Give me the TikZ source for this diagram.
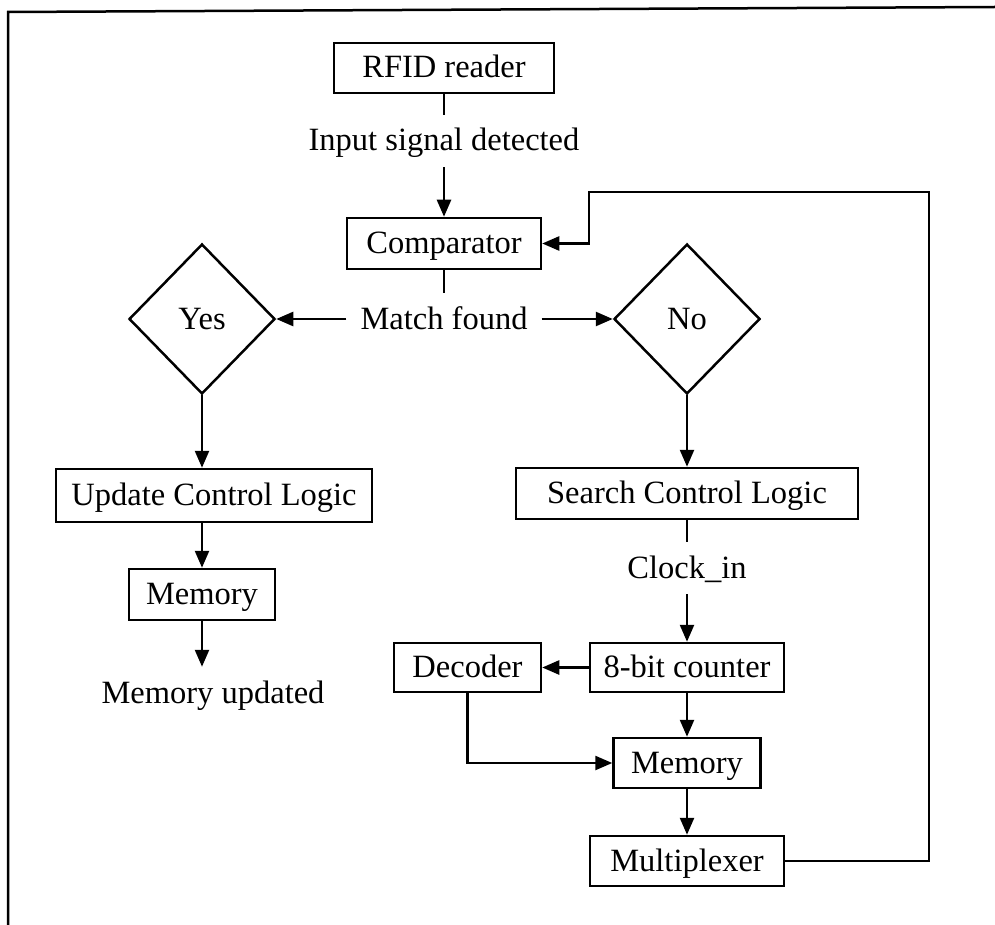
\documentclass[tikz,border=0pt]{standalone}
\usepackage{fontspec}
\setmainfont{Liberation Serif}
\usetikzlibrary{shapes.geometric,arrows.meta}
\begin{document}
\begin{tikzpicture}[x=1pt,y=-1pt,
  line width=2.5pt,
  font=\fontsize{32.5}{38}\selectfont,
  box/.style={draw, rectangle, inner sep=0pt, minimum height=51pt, text height=22pt, text depth=2pt},
  lbl/.style={inner xsep=13pt, inner ysep=0pt, minimum height=50pt, text height=22pt, text depth=2pt},
  dec/.style={draw, diamond, inner sep=0pt, minimum width=146pt, minimum height=150pt, text height=22pt, text depth=2pt},
  arr/.style={-{Triangle[length=17pt,width=14pt]}}
]
\useasboundingbox (0,0) rectangle (995,925);
% frame
\draw[line width=2.5pt] (995,7) -- (8,12) -- (8,925);
% nodes
\node[box, minimum width=220pt, minimum height=50pt] (rfid) at (444,68) {RFID reader};
\node[lbl] (inp) at (444,141) {Input signal detected};
\node[box, minimum width=194pt] (comp) at (444,243.5) {Comparator};
\node[lbl] (match) at (444,319) {Match found};
\node[dec] (yes) at (202,319) {Yes};
\node[dec] (no) at (687,319) {No};
\node[box, minimum width=316pt, minimum height=53pt] (upd) at (214,495.5) {Update Control Logic};
\node[box, minimum width=146pt] (mem1) at (202,594.5) {Memory};
\node[lbl] (memupd) at (213,693) {Memory updated};
\node[box, minimum width=342pt] (search) at (687,493.5) {Search Control Logic};
\node[lbl] (clock) at (687,568) {Clock\_in};
\node[box, minimum width=194pt, minimum height=49pt] (counter) at (687,667.5) {8-bit counter};
\node[box, minimum width=147pt, minimum height=49pt] (decoder) at (467.5,667.5) {Decoder};
\node[box, minimum width=147pt, minimum height=50pt] (mem2) at (687,763) {Memory};
\node[box, minimum width=194pt, minimum height=50pt] (mux) at (687,861) {Multiplexer};
\coordinate (fbA) at (929,192);
\coordinate (fbB) at (589,192);
% connectors
\draw (rfid.south) -- (inp.north);
\draw[arr] (inp.south) -- (comp.north);
\draw (comp.south) -- (match.north);
\draw[arr] (match.west) -- (yes.east);
\draw[arr] (match.east) -- (no.west);
\draw[arr] (yes.south) -- (yes.south |- upd.north);
\draw[arr] (mem1.north |- upd.south) -- (mem1.north);
\draw[arr] (mem1.south) -- (mem1.south |- memupd.north);
\draw[arr] (no.south) -- (search.north);
\draw (search.south) -- (clock.north);
\draw[arr] (clock.south) -- (counter.north);
\draw[arr] (counter.west) -- (decoder.east);
\draw[arr] (counter.south) -- (mem2.north);
\draw[arr] (decoder.south) |- (mem2.west);
\draw[arr] (mem2.south) -- (mux.north);
\draw[arr] (mux.east) -| (fbA) -- (fbB) |- (comp.east);
\end{tikzpicture}
\end{document}
